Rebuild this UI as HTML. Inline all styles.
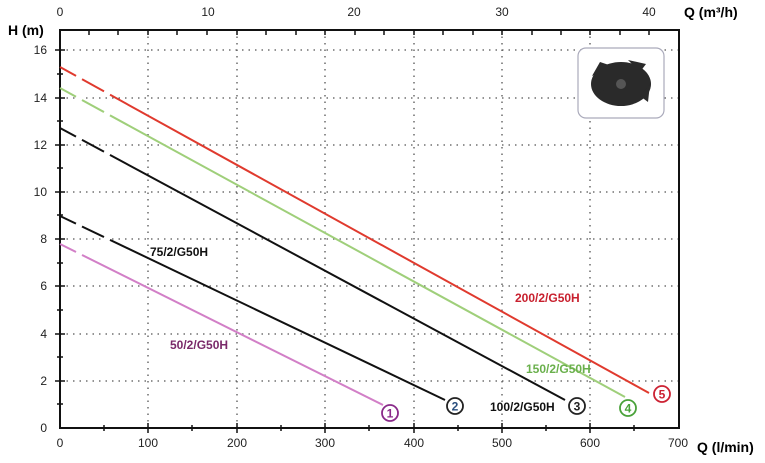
<!DOCTYPE html><html><head><style>body{margin:0;background:#fff}</style></head><body>
<svg width="765" height="458" xmlns="http://www.w3.org/2000/svg" font-family="Liberation Sans, sans-serif">
<g stroke="#555" stroke-width="1.3" stroke-dasharray="1.5,5">
<line x1="148" y1="30" x2="148" y2="428"/><line x1="237" y1="30" x2="237" y2="428"/><line x1="325" y1="30" x2="325" y2="428"/><line x1="414" y1="30" x2="414" y2="428"/><line x1="502" y1="30" x2="502" y2="428"/><line x1="590" y1="30" x2="590" y2="428"/>
<line x1="60" y1="50" x2="679" y2="50"/><line x1="60" y1="98" x2="679" y2="98"/><line x1="60" y1="145" x2="679" y2="145"/><line x1="60" y1="192" x2="679" y2="192"/><line x1="60" y1="239" x2="679" y2="239"/><line x1="60" y1="286" x2="679" y2="286"/><line x1="60" y1="334" x2="679" y2="334"/><line x1="60" y1="381" x2="679" y2="381"/>
</g>
<rect x="60" y="30" width="619" height="398" fill="none" stroke="#111" stroke-width="2"/>
<g stroke="#111" stroke-width="1.5">
<path d="M148 423V433M237 423V433M325 423V433M414 423V433M502 423V433M590 423V433"/>
<path d="M104 425V431M192 425V431M281 425V431M369 425V431M458 425V431M546 425V431M634 425V431"/>
<path d="M89 30V35M118 30V35M148 30V35M177 30V35M207 30V35M237 30V35M266 30V35M296 30V35M325 30V35M355 30V35M384 30V35M414 30V35M443 30V35M473 30V35M502 30V35M532 30V35M561 30V35M590 30V35M620 30V35M649 30V35"/>
<path d="M55 50H65M55 98H65M55 145H65M55 192H65M55 239H65M55 286H65M55 334H65M55 381H65"/>
<path d="M57 74H63M57 121H63M57 168H63M57 215H63M57 263H63M57 310H63M57 357H63M57 404H63"/>
</g>
<g font-size="12" fill="#222" text-anchor="middle">
<text x="60" y="447">0</text><text x="148" y="447">100</text><text x="237" y="447">200</text><text x="325" y="447">300</text><text x="414" y="447">400</text><text x="502" y="447">500</text><text x="590" y="447">600</text><text x="678" y="447">700</text>
<text x="60" y="16">0</text><text x="208" y="16">10</text><text x="354" y="16">20</text><text x="502" y="16">30</text><text x="649" y="16">40</text>
</g>
<g font-size="12" fill="#222" text-anchor="end">
<text x="47" y="54">16</text><text x="47" y="102">14</text><text x="47" y="149">12</text><text x="47" y="196">10</text><text x="47" y="243">8</text><text x="47" y="290">6</text><text x="47" y="338">4</text><text x="47" y="385">2</text><text x="47" y="432">0</text>
</g>
<text x="8" y="35" font-size="14" font-weight="bold">H (m)</text>
<text x="684" y="17" font-size="14" font-weight="bold">Q (m³/h)</text>
<text x="697" y="452" font-size="14" font-weight="bold">Q (l/min)</text>
<g stroke-width="2" fill="none">
<path d="M60 67L649 393" stroke="#e03a2e" stroke-dasharray="0,0"/>
<path d="M60 88L625 397" stroke="#9fcf7a"/>
<path d="M60 128L565 400" stroke="#111"/>
<path d="M60 216L445 400" stroke="#111"/>
<path d="M60 244L383 405" stroke="#d27fc7"/>
</g>
<g stroke="#fff" stroke-width="4">
<path d="M76 76L82 79.3M104 91.4L110 94.7"/>
<path d="M76 96.8L82 100M104 112L110 115.3"/>
<path d="M76 136.6L82 139.8M104 151.7L110 154.9"/>
<path d="M76 223.6L82 226.5M104 237L110 239.9"/>
<path d="M76 252L82 255"/>
</g>
<g fill="#fff" stroke-width="1.8" font-size="12" font-weight="bold" text-anchor="middle">
<circle cx="390" cy="413" r="8" stroke="#8a2a8a"/><text x="390" y="417.5" fill="#8a2a8a" stroke="none">1</text>
<circle cx="455" cy="406" r="8" stroke="#222"/><text x="455" y="410.5" fill="#2a4f7f" stroke="none">2</text>
<circle cx="577" cy="406" r="8" stroke="#222"/><text x="577" y="410.5" fill="#222" stroke="none">3</text>
<circle cx="628" cy="408" r="8" stroke="#4aa23a"/><text x="628" y="412.5" fill="#4aa23a" stroke="none">4</text>
<circle cx="662" cy="394" r="8" stroke="#cc2233"/><text x="662" y="398.5" fill="#cc2233" stroke="none">5</text>
</g>
<g font-size="12" font-weight="bold">
<text x="515" y="302" fill="#c8202e">200/2/G50H</text>
<text x="526" y="373" fill="#6ab04c">150/2/G50H</text>
<text x="490" y="411" fill="#111">100/2/G50H</text>
<text x="150" y="256" fill="#111">75/2/G50H</text>
<text x="170" y="349" fill="#7a2a6a">50/2/G50H</text>
</g>
<rect x="578" y="48" width="86" height="70" rx="8" fill="#fff" stroke="#aab" stroke-width="1.2"/>
<g fill="#2a2a2a">
<ellipse cx="621" cy="84" rx="30" ry="22"/>
<path d="M592 76L600 62L612 66Z M628 60L646 64L640 72Z M650 84L648 102L640 96Z M610 104L596 96L604 90Z"/>
</g>
<circle cx="621" cy="84" r="5" fill="#555"/>
</svg>
</body></html>
